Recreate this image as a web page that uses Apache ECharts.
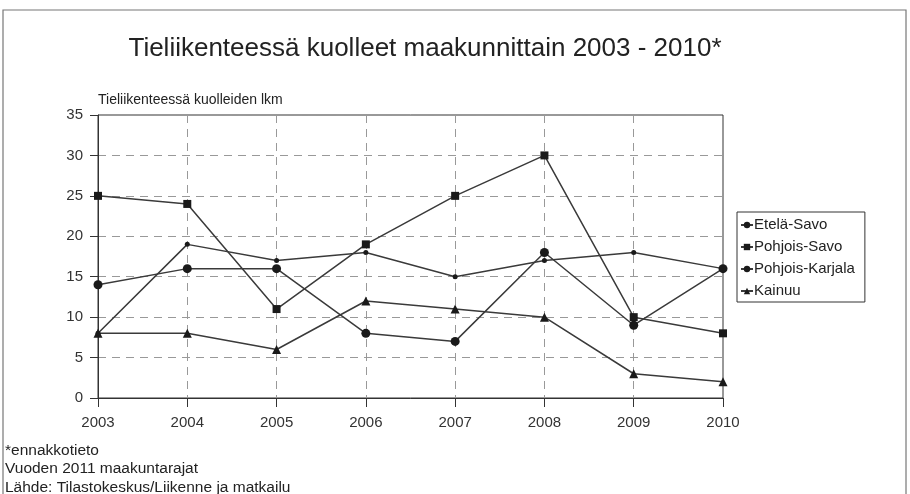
<!DOCTYPE html>
<html><head><meta charset="utf-8">
<script src="https://cdn.jsdelivr.net/npm/echarts@6/dist/echarts.min.js"></script>
<style>html,body{margin:0;padding:0;background:#fff}#c{width:910px;height:494px}</style>
</head><body><div id="c"></div>
<script>
const years = ['2003','2004','2005','2006','2007','2008','2009','2010'];
const etelaSavo = [8, 19, 17, 18, 15, 17, 18, 16];
const pohjoisSavo = [25, 24, 11, 19, 25, 30, 10, 8];
const pohjoisKarjala = [14, 16, 16, 8, 7, 18, 9, 16];
const kainuu = [8, 8, 6, 12, 11, 10, 3, 2];
const yTicks = [0, 5, 10, 15, 20, 25, 30, 35];
const footnotes = ['*ennakkotieto', 'Vuoden 2011 maakuntarajat', 'Lähde: Tilastokeskus/Liikenne ja matkailu'];

const font = 'Liberation Sans, Arial, sans-serif';
const lineCol = '#3a3a3a';
function mk(name, data, symbol, size) {
  return {
    name, type: 'line', data, symbol, symbolSize: size,
    lineStyle: { color: lineCol, width: 1.5 },
    itemStyle: { color: '#1a1a1a' },
    emphasis: { disabled: true }, animation: false
  };
}
const chart = echarts.init(document.getElementById('c'));
chart.setOption({
  animation: false,
  title: {
    text: 'Tieliikenteessä kuolleet maakunnittain 2003 - 2010*',
    left: 420, top: 31, textAlign: 'center',
    textStyle: { fontFamily: font, fontSize: 26, fontWeight: 'normal', color: '#222' }
  },
  grid: { left: 98, top: 115, width: 625, height: 283, containLabel: false,
          show: true, borderColor: '#333', borderWidth: 1 },
  legend: {
    orient: 'vertical', left: 737, top: 212,
    data: ['Etelä-Savo', 'Pohjois-Savo', 'Pohjois-Karjala', 'Kainuu'],
    itemWidth: 12, itemHeight: 8, itemGap: 6,
    padding: [5, 10, 3, 3],
    borderColor: '#333', borderWidth: 1,
    textStyle: { fontFamily: font, fontSize: 15, color: '#222', padding: [0,0,0,-4], lineHeight: 16 }
  },
  xAxis: {
    type: 'category', data: years, boundaryGap: false,
    axisLine: { lineStyle: { color: '#333' } },
    axisTick: { show: true, length: 9, lineStyle: { color: '#333' } },
    axisLabel: { fontFamily: font, fontSize: 15, color: '#333', margin: 17 },
    splitLine: { show: true, lineStyle: { color: '#999', type: [8, 6] } }
  },
  yAxis: {
    type: 'value', min: 0, max: 35, interval: 5,
    name: 'Tieliikenteessä kuolleiden lkm', nameLocation: 'end',
    nameTextStyle: { fontFamily: font, fontSize: 14, color: '#222', align: 'left', padding: [0,0,0,0] },
    nameGap: 8,
    axisLine: { show: true, lineStyle: { color: '#333' } },
    axisTick: { show: true, length: 8, lineStyle: { color: '#333' } },
    axisLabel: { fontFamily: font, fontSize: 15, color: '#333', margin: 15,
                 formatter: v => yTicks.includes(v) ? String(v) : '' },
    splitLine: { show: true, lineStyle: { color: '#999', type: [8, 6] } }
  },
  graphic: [
    { type: 'rect', shape: { x: 3, y: 10, width: 903, height: 500 },
      style: { fill: 'none', stroke: '#777', lineWidth: 1.2 }, silent: true },
    { type: 'text', left: 5, top: 441, style: { text: footnotes.join('\n'),
      font: '15.5px ' + font, fill: '#222', lineHeight: 18.5 } }
  ],
  series: [
    mk('Etelä-Savo', etelaSavo, 'circle', 5),
    mk('Pohjois-Savo', pohjoisSavo, 'rect', 8),
    mk('Pohjois-Karjala', pohjoisKarjala, 'circle', 9),
    mk('Kainuu', kainuu, 'triangle', 9)
  ]
});
</script></body></html>
